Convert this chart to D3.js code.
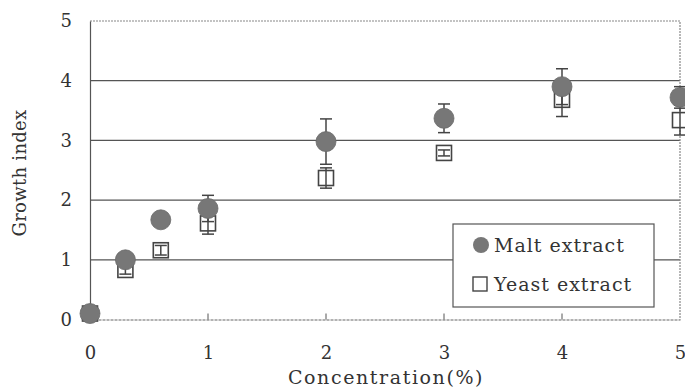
<!DOCTYPE html>
<html>
<head>
<meta charset="utf-8">
<script src="https://cdn.jsdelivr.net/npm/d3@7/dist/d3.min.js"></script>
<style>
  html, body { margin: 0; padding: 0; background: #fff; }
  svg { display: block; }
  text { font-family: "DejaVu Serif", "Liberation Serif", serif; fill: #333; }
</style>
</head>
<body>
<svg id="chart" width="685" height="388"></svg>
<script>
// Growth index vs. extract concentration (mean ± error)
const concentration = [0, 0.3, 0.6, 1, 2, 3, 4, 5];
const maltMean  = [0.1, 1.0, 1.67, 1.86, 2.98, 3.37, 3.9, 3.72];
const maltErr   = [0.0, 0.05, 0.05, 0.22, 0.38, 0.24, 0.3, 0.18];
const yeastMean = [0.1, 0.83, 1.16, 1.61, 2.37, 2.79, 3.68, 3.34];
const yeastErr  = [0.0, 0.07, 0.08, 0.18, 0.17, 0.05, 0.28, 0.25];
const xTicks = [0, 1, 2, 3, 4, 5];
const yTicks = [0, 1, 2, 3, 4, 5];
const seriesNames = ["Malt extract", "Yeast extract"];

const svg = d3.select("#chart");
const x = d3.scaleLinear().domain([0, 5]).range([90, 680]);
const y = d3.scaleLinear().domain([0, 5]).range([319.5, 21]);

const ink = "#444";
const serif = '"DejaVu Serif", "Liberation Serif", serif';

// horizontal grid lines at interior ticks
svg.append("g")
  .selectAll("line")
  .data(yTicks.filter(t => t > 0 && t < 5))
  .join("line")
  .attr("x1", x(0)).attr("x2", x(5))
  .attr("y1", d => y(d)).attr("y2", d => y(d))
  .attr("stroke", "#555").attr("stroke-width", 1.2);

// top and right frame, lighter and dotted
svg.append("path")
  .attr("d", `M${x(0)},${y(5)}H${x(5)}V${y(0)}`)
  .attr("fill", "none")
  .attr("stroke", "#888").attr("stroke-width", 1.2)
  .attr("stroke-dasharray", "2,1");

// bottom axis with short upward ticks
const xAxis = d3.axisBottom(x).tickValues(xTicks).tickFormat(d3.format("d")).tickSize(0).tickPadding(27);
const gx = svg.append("g").attr("transform", `translate(0,${y(0)})`).call(xAxis);
gx.select(".domain").attr("stroke", "#666").attr("stroke-width", 1.2).attr("stroke-dasharray", "3,1");
gx.selectAll(".tick text").attr("font-size", 18).attr("fill", "#333")
  .style("font-family", serif);
svg.append("g").selectAll("line")
  .data(xTicks.filter(t => t > 0 && t < 5))
  .join("line")
  .attr("x1", d => x(d)).attr("x2", d => x(d))
  .attr("y1", y(0)).attr("y2", y(0) - 6)
  .attr("stroke", "#555").attr("stroke-width", 1);

// left axis
const yAxis = d3.axisLeft(y).tickValues(yTicks).tickFormat(d3.format("d")).tickSize(0).tickPadding(18);
const gy = svg.append("g").attr("transform", `translate(${x(0)},0)`).call(yAxis);
gy.select(".domain").attr("stroke", "#555").attr("stroke-width", 1.2);
gy.selectAll(".tick text").attr("font-size", 18).attr("fill", "#333")
  .style("font-family", serif);

// axis titles
svg.append("text")
  .attr("x", 386).attr("y", 384)
  .attr("text-anchor", "middle")
  .attr("font-size", 19)
  .attr("letter-spacing", "1.6px")
  .text("Concentration(%)");
svg.append("text")
  .attr("transform", `translate(26,${173}) rotate(-90)`)
  .attr("text-anchor", "middle")
  .attr("font-size", 18)
  .attr("letter-spacing", "0.3px")
  .text("Growth index");

const malt = concentration.map((c, i) => ({ c, m: maltMean[i], e: maltErr[i] }));
const yeast = concentration.map((c, i) => ({ c, m: yeastMean[i], e: yeastErr[i] }));

function errorBars(data, cls) {
  const g = svg.append("g").attr("class", cls);
  const items = g.selectAll("g").data(data.filter(d => d.e > 0)).join("g");
  items.append("line")
    .attr("x1", d => x(d.c)).attr("x2", d => x(d.c))
    .attr("y1", d => y(d.m + d.e)).attr("y2", d => y(d.m - d.e))
    .attr("stroke", ink).attr("stroke-width", 1.5);
  [1, -1].forEach(s => {
    items.append("line")
      .attr("x1", d => x(d.c) - 6).attr("x2", d => x(d.c) + 6)
      .attr("y1", d => y(d.m + s * d.e)).attr("y2", d => y(d.m + s * d.e))
      .attr("stroke", ink).attr("stroke-width", 1.5);
  });
}

// yeast extract: open squares
const sq = 15;
svg.append("g").selectAll("rect")
  .data(yeast)
  .join("rect")
  .attr("x", d => x(d.c) - sq / 2).attr("y", d => y(d.m) - sq / 2)
  .attr("width", sq).attr("height", sq)
  .attr("fill", "#fff").attr("stroke", ink).attr("stroke-width", 1.6);
errorBars(yeast, "yeast-err");

// malt extract: filled circles
errorBars(malt, "malt-err");
svg.append("g").selectAll("circle")
  .data(malt)
  .join("circle")
  .attr("cx", d => x(d.c)).attr("cy", d => y(d.m))
  .attr("r", 10)
  .attr("fill", "#777").attr("stroke", "#6a6a6a").attr("stroke-width", 0.8);

// legend
const lg = svg.append("g");
lg.append("rect")
  .attr("x", 453).attr("y", 224).attr("width", 201).attr("height", 83)
  .attr("fill", "#fff").attr("stroke", "#555").attr("stroke-width", 1.2);
lg.append("circle").attr("cx", 481).attr("cy", 245).attr("r", 8)
  .attr("fill", "#777");
lg.append("rect").attr("x", 473).attr("y", 277).attr("width", 14).attr("height", 14)
  .attr("fill", "#fff").attr("stroke", ink).attr("stroke-width", 1.4);
lg.selectAll("text.lbl")
  .data(seriesNames)
  .join("text")
  .attr("class", "lbl")
  .attr("x", 494).attr("y", (d, i) => 252 + i * 39)
  .attr("font-size", 19)
  .attr("letter-spacing", "1px")
  .text(d => d);
</script>
</body>
</html>
